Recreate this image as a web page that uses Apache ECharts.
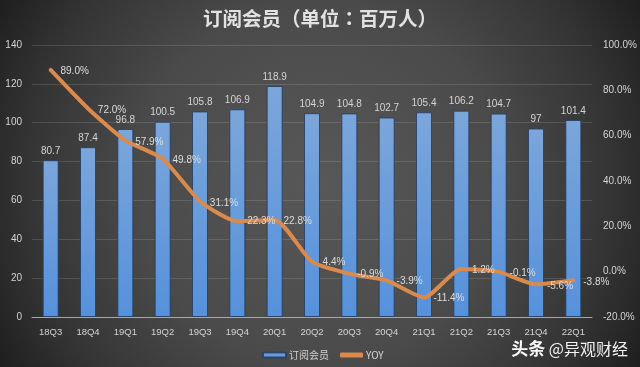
<!DOCTYPE html>
<html>
<head>
<meta charset="utf-8">
<style>html,body{margin:0;padding:0;background:#333}#c{width:640px;height:367px}</style>
<script src="https://cdn.jsdelivr.net/npm/echarts@6/dist/echarts.min.js"></script>
</head>
<body>
<div id="c"></div>
<script>
const categories = ['18Q3','18Q4','19Q1','19Q2','19Q3','19Q4','20Q1','20Q2','20Q3','20Q4','21Q1','21Q2','21Q3','21Q4','22Q1'];
const members = [80.7,87.4,96.8,100.5,105.8,106.9,118.9,104.9,104.8,102.7,105.4,106.2,104.7,97,101.4];
const yoy = [89.0,72.0,57.9,49.8,31.1,22.3,22.8,4.4,-0.9,-3.9,-11.4,1.2,-0.1,-5.6,-3.8];
const yoyLabelOffsets = [[24,1],[24,2],[24,2],[24,1],[24,2],[24,0],[23,1],[22,1],[21,1],[23,1],[25,1],[22,1],[24,1],[24,2],[23,2]];
const FONT = '"Noto Sans CJK SC","Liberation Sans",sans-serif';
const LATIN = '"Liberation Sans",sans-serif';
const TXT = '#d4d4d4';
const chart = echarts.init(document.getElementById('c'), null, {renderer:'canvas'});
chart.setOption({
  animation:false,
  backgroundColor:new echarts.graphic.RadialGradient(0.5,0.5,1,[
    {offset:0,color:'#585858'},{offset:0.5,color:'#4a4a4a'},{offset:0.8,color:'#343434'},{offset:1,color:'#1f1f1f'}]),
  textStyle:{fontFamily:FONT},
  title:{text:'订阅会员（单位：百万人）',left:'center',top:4,
    textStyle:{color:'#e2e2e2',fontSize:19.5,fontWeight:'bold',fontFamily:'"Noto Sans CJK TC",sans-serif'}},
  grid:{left:32,right:48,top:45,bottom:50},
  legend:{bottom:7,left:262,padding:0,itemGap:11,itemWidth:23,itemHeight:5,
    textStyle:{color:TXT,fontSize:10,padding:[0,0,0,-2]},
    data:[{name:'订阅会员'},{name:'YOY',icon:'roundRect'}]},
  xAxis:{type:'category',data:categories,
    axisTick:{show:false},
    axisLine:{lineStyle:{color:'#a8a8a8',width:1}},
    axisLabel:{color:TXT,fontSize:9.5,margin:10,fontFamily:LATIN}},
  yAxis:[
    {type:'value',min:0,max:140,interval:20,
     axisLine:{show:false},axisTick:{show:false},
     axisLabel:{color:TXT,fontSize:10,margin:10,fontFamily:LATIN},
     splitLine:{lineStyle:{color:'rgba(255,255,255,0.13)',width:1}}},
    {type:'value',min:-20,max:100,interval:20,
     axisLine:{show:false},axisTick:{show:false},splitLine:{show:false},
     axisLabel:{color:TXT,fontSize:10,margin:11,align:'left',fontFamily:LATIN,
       formatter:v=>v.toFixed(1)+'%'}}
  ],
  series:[
    {name:'订阅会员',type:'bar',yAxisIndex:0,data:members,barWidth:16,
     itemStyle:{color:new echarts.graphic.LinearGradient(0,0,0,1,[
       {offset:0,color:'#7ba6da'},{offset:1,color:'#5591dc'}]),
       borderColor:'rgba(38,62,96,0.85)',borderWidth:1},
     label:{show:true,position:'top',distance:4,color:TXT,fontSize:10,fontFamily:LATIN}},
    {name:'YOY',type:'line',yAxisIndex:1,smooth:0.2,symbol:'circle',symbolSize:1,showSymbol:true,
     data:yoy.map((v,i)=>({value:v,label:{offset:yoyLabelOffsets[i]}})),
     lineStyle:{color:'#d98a4c',width:4,cap:'round'},
     itemStyle:{color:'#d98a4c'},
     label:{show:true,position:'inside',color:'#dcdcdc',fontSize:10,fontFamily:LATIN,
       formatter:p=>p.value.toFixed(1)+'%'},
     z:5}
  ],
  graphic:[{type:'text',right:12,bottom:10,z:20,
    style:{text:'{a|头条} @异观财经',fill:'#f2f2f2',fontSize:16,fontFamily:FONT,
      rich:{a:{fontSize:17,fontWeight:'bold',fill:'#f8f8f8',fontFamily:FONT}}}}]
});
</script>
</body>
</html>
